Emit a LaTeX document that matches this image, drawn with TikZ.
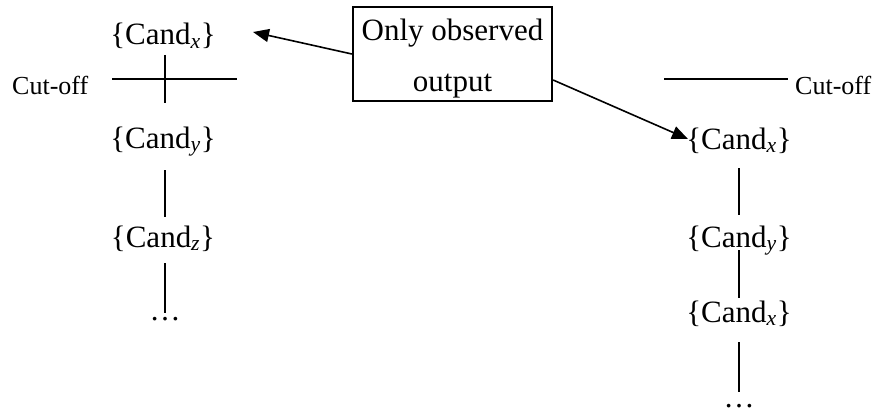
\documentclass[tikz,border=0pt]{standalone}
\usepackage{fontspec}
\setmainfont{Liberation Serif}
\usetikzlibrary{arrows.meta}
\newcommand\candtxt[1]{\{Cand\textsubscript{\textit{#1}}\}}
\begin{document}
\begin{tikzpicture}[x=1pt,y=-1pt,
  cand/.style={font=\fontsize{31}{36}\selectfont, inner sep=0pt, anchor=base},
  cutlbl/.style={font=\fontsize{26}{30}\selectfont, inner sep=0pt, anchor=base west},
  boxtxt/.style={font=\fontsize{31}{36}\selectfont, inner sep=0pt, anchor=base},
  link/.style={line width=1.5pt},
  pointer/.style={line width=1.6pt, -{Triangle[length=16pt,width=13pt]}},
  obsbox/.style={draw, line width=2.2pt, minimum width=199pt, minimum height=94pt, inner sep=0pt}]
\useasboundingbox (0,0) rectangle (876,412);

% left chain
\node[cand] (lcx) at (163,45) {\candtxt{x}};
\node[cand] (lcy) at (163,148) {\candtxt{y}};
\node[cand] (lcz) at (163,247) {\candtxt{z}};
\node[cand] (ldots) at (165,320) {…};
\draw[link] ([xshift=2pt,yshift=-10pt]lcx.base) -- ([xshift=2pt,yshift=45pt]lcy.base);
\draw[link] ([xshift=2pt,yshift=-22pt]lcy.base) -- ([xshift=2pt,yshift=30pt]lcz.base);
\draw[link] ([xshift=2pt,yshift=-16pt]lcz.base) -- ([yshift=7pt]ldots.base);

% left cut-off
\node[cutlbl] (lcut) at (12,95) {Cut-off};
\coordinate (lcutA) at (112,79);
\coordinate (lcutB) at (237,79);
\draw[link] (lcutA) -- (lcutB);

% right chain
\node[cand] (rcx) at (739,149) {\candtxt{x}};
\node[cand] (rcy) at (739,247) {\candtxt{y}};
\node[cand] (rcx2) at (739,322) {\candtxt{x}};
\node[cand] (rdots) at (739,407) {…};
\draw[link] ([yshift=-19pt]rcx.base) -- ([yshift=32pt]rcy.base);
\draw[link] ([yshift=-3pt]rcy.base) -- ([yshift=24pt]rcx2.base);
\draw[link] ([yshift=-20pt]rcx2.base) -- ([yshift=15pt]rdots.base);

% right cut-off
\node[cutlbl] (rcut) at (795,95) {Cut-off};
\coordinate (rcutA) at (664,79);
\coordinate (rcutB) at (788,79);
\draw[link] (rcutA) -- (rcutB);

% observed output box
\node[obsbox] (obs) at (452.5,54) {};
\node[boxtxt] (obs1) at (452.5,41) {Only observed};
\node[boxtxt] (obs2) at (452.5,92) {output};

% pointers from the box
\coordinate (tipL) at (253,32);
\coordinate (tipR) at (688,139);
\draw[pointer] (obs.west) -- (tipL);
\draw[pointer] ([yshift=-26pt]obs.east) -- (tipR);
\end{tikzpicture}
\end{document}
